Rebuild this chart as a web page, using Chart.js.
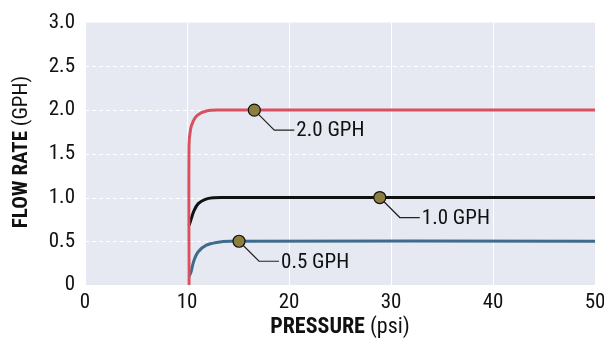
<!DOCTYPE html>
<html>
<head>
<meta charset="utf-8">
<script src="https://cdn.jsdelivr.net/npm/chart.js@4.4.1/dist/chart.umd.min.js"></script>
<style>
  html, body { margin: 0; padding: 0; background: #fff; }
  #wrap { width: 604px; height: 345px; }
</style>
</head>
<body>
<div id="wrap"><canvas id="flowChart"></canvas></div>
<script>
// Courbes (pression psi -> débit GPH)
const pressure20 = [10.2, 10.2, 10.35, 10.6, 11.0, 11.9, 13.2, 50];
const flow20     = [0, 1.6, 1.78, 1.87, 1.94, 1.99, 2.0, 2.0];
const pressure10 = [10.2, 10.4, 10.65, 11.1, 11.8, 12.6, 13.6, 50];
const flow10     = [0.68, 0.75, 0.84, 0.93, 0.98, 0.997, 1.0, 1.0];
const pressure05 = [10.2, 10.4, 10.65, 11.1, 11.9, 12.9, 14.2, 50];
const flow05     = [0.1, 0.15, 0.27, 0.38, 0.455, 0.487, 0.5, 0.5];

// Repères étiquetés
const markerLabels   = ['2.0 GPH', '1.0 GPH', '0.5 GPH'];
const markerPressure = [16.6, 28.9, 15.1];
const markerFlow     = [2.0, 1.0, 0.5];

const xTicks = [0, 10, 20, 30, 40, 50];
const yTicks = [0, 0.5, 1.0, 1.5, 2.0, 2.5, 3.0];

const RED = '#d9505f';
const BLACK = '#111111';
const BLUE = '#3f6b8c';
const OLIVE = '#8c7f3e';
const PLOT_BG = '#e6e9f2';
const FONT = "'Roboto Condensed', 'Liberation Sans Narrow', 'DejaVu Sans Condensed', sans-serif";

function toPoints(xs, ys) {
    return xs.map((x, i) => ({ x: x, y: ys[i] }));
}

// Fond de la zone de tracé + grille horizontale en pointillés
const plotBackground = {
    id: 'plotBackground',
    beforeDraw(chart) {
        const { ctx, chartArea: a, scales } = chart;
        ctx.save();
        ctx.fillStyle = PLOT_BG;
        ctx.fillRect(a.left, a.top, a.right - a.left, a.bottom - a.top);
        ctx.strokeStyle = '#ffffff';
        ctx.lineWidth = 1;
        ctx.setLineDash([4, 3]);
        yTicks.forEach(v => {
            if (v === 0 || v === 3) return;
            const y = Math.round(scales.y.getPixelForValue(v)) + 0.5;
            ctx.beginPath();
            ctx.moveTo(a.left, y);
            ctx.lineTo(a.right, y);
            ctx.stroke();
        });
        ctx.restore();
    }
};

// Traits de rappel + étiquettes des repères, titres des axes
const leaderLabels = {
    id: 'leaderLabels',
    beforeDatasetsDraw(chart) {
        const { ctx, scales } = chart;
        ctx.save();
        ctx.strokeStyle = '#222';
        ctx.lineWidth = 1.2;
        ctx.fillStyle = '#111';
        ctx.font = '21px ' + FONT;
        ctx.textBaseline = 'middle';
        markerLabels.forEach((label, i) => {
            const px = scales.x.getPixelForValue(markerPressure[i]);
            const py = scales.y.getPixelForValue(markerFlow[i]);
            ctx.beginPath();
            ctx.moveTo(px, py);
            ctx.lineTo(px + 20, py + 20);
            ctx.lineTo(px + 40, py + 20);
            ctx.stroke();
            ctx.fillText(label, px + 42, py + 21);
        });
        ctx.restore();
    },
    afterDraw(chart) {
        const { ctx, chartArea: a } = chart;
        ctx.save();
        ctx.fillStyle = '#111';
        ctx.textBaseline = 'middle';
        drawMixed(ctx, 'PRESSURE', ' (psi)', (a.left + a.right) / 2, 327, 22);
        ctx.translate(22, 152);
        ctx.rotate(-Math.PI / 2);
        drawMixed(ctx, 'FLOW RATE', ' (GPH)', 0, 0, 21);
        ctx.restore();
    }
};

function drawMixed(ctx, boldPart, normalPart, cx, cy, size) {
    const bold = 'bold ' + size + 'px ' + FONT;
    const normal = size + 'px ' + FONT;
    ctx.font = bold;
    const w1 = ctx.measureText(boldPart).width;
    ctx.font = normal;
    const w2 = ctx.measureText(normalPart).width;
    const start = cx - (w1 + w2) / 2;
    ctx.textAlign = 'left';
    ctx.font = bold;
    ctx.fillText(boldPart, start, cy);
    ctx.font = normal;
    ctx.fillText(normalPart, start + w1, cy);
}

const lineStyle = { showLine: true, pointRadius: 0, borderWidth: 3, tension: 0.35, fill: false };

new Chart(document.getElementById('flowChart').getContext('2d'), {
    type: 'scatter',
    data: {
        datasets: [
            {
                label: 'markers',
                data: toPoints(markerPressure, markerFlow),
                showLine: false,
                pointRadius: 6,
                pointBackgroundColor: OLIVE,
                pointBorderColor: '#111',
                pointBorderWidth: 1.2
            },
            Object.assign({ label: '2.0 GPH', data: toPoints(pressure20, flow20), borderColor: RED }, lineStyle),
            Object.assign({ label: '1.0 GPH', data: toPoints(pressure10, flow10), borderColor: BLACK }, lineStyle),
            Object.assign({ label: '0.5 GPH', data: toPoints(pressure05, flow05), borderColor: BLUE }, lineStyle)
        ]
    },
    options: {
        responsive: true,
        maintainAspectRatio: false,
        animation: false,
        layout: { padding: { top: 22, right: 0, left: 0, bottom: 0 } },
        plugins: { legend: { display: false }, tooltip: { enabled: false } },
        scales: {
            x: {
                type: 'linear',
                min: 0, max: 50,
                afterBuildTicks: s => { s.ticks = xTicks.map(v => ({ value: v })); },
                afterFit: s => { s.height = 60; s.paddingRight = 9; s.paddingLeft = 0; },
                border: { display: false },
                grid: { color: '#ffffff', lineWidth: 1, drawTicks: false },
                ticks: { color: '#111', font: { family: FONT, size: 21 }, padding: 5, maxRotation: 0 }
            },
            y: {
                type: 'linear',
                min: 0, max: 3,
                afterBuildTicks: s => { s.ticks = yTicks.map(v => ({ value: v })); },
                afterFit: s => { s.width = 85; },
                border: { display: false },
                grid: { display: false, drawTicks: false },
                ticks: {
                    color: '#111', font: { family: FONT, size: 21 }, padding: 10,
                    callback: v => v === 0 ? '0' : v.toFixed(1)
                }
            }
        }
    },
    plugins: [plotBackground, leaderLabels]
});
</script>
</body>
</html>
